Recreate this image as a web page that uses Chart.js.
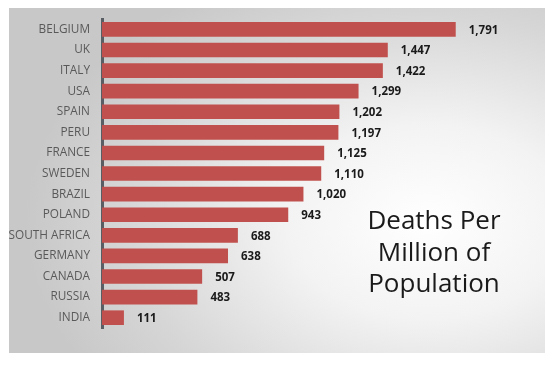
<!DOCTYPE html>
<html>
<head>
<meta charset="utf-8">
<script src="https://cdn.jsdelivr.net/npm/chart.js@4"></script>
<style>
    html, body { margin: 0; padding: 0; background: #fff; }
    #wrap { position: relative; width: 559px; height: 365px; }
    #panel {
        position: absolute; left: 9px; top: 8px; width: 536px; height: 345px;
        background: radial-gradient(ellipse 75% 80% at 78% 62%, #ffffff 0%, #f3f3f3 35%, #d6d6d6 75%, #c8c8c8 100%);
    }
    #chart { position: absolute; left: 0; top: 0; }
    #title {
        position: absolute; left: 334px; top: 204px; width: 200px;
        text-align: center; font-family: 'Open Sans', sans-serif;
        font-size: 26px; line-height: 31.5px; color: #1a1a1a;
    }
</style>
</head>
<body>
<div id="wrap">
    <div id="panel"></div>
    <canvas id="chart" width="559" height="365"></canvas>
    <div id="title">Deaths Per<br>Million of<br>Population</div>
</div>
<script>
var countries = ['BELGIUM', 'UK', 'ITALY', 'USA', 'SPAIN', 'PERU', 'FRANCE', 'SWEDEN',
    'BRAZIL', 'POLAND', 'SOUTH AFRICA', 'GERMANY', 'CANADA', 'RUSSIA', 'INDIA'];
var deathsPerMillion = [1791, 1447, 1422, 1299, 1202, 1197, 1125, 1110,
    1020, 943, 688, 638, 507, 483, 111];

// draw the value next to each bar
var valueLabels = {
    id: 'valueLabels',
    afterDatasetsDraw: function(chart) {
        var ctx = chart.ctx;
        var meta = chart.getDatasetMeta(0);
        ctx.save();
        ctx.font = '700 11.5px "Open Sans", sans-serif';
        ctx.fillStyle = '#1a1a1a';
        ctx.textAlign = 'left';
        ctx.textBaseline = 'middle';
        meta.data.forEach(function(bar, i) {
            ctx.fillText(deathsPerMillion[i].toLocaleString('en-US'), bar.x + 13, bar.y + 1);
        });
        ctx.restore();
    }
};

new Chart(document.getElementById('chart'), {
    type: 'bar',
    data: {
        labels: countries,
        datasets: [{
            data: deathsPerMillion,
            backgroundColor: '#c0504d',
            borderWidth: 0,
            barPercentage: 0.71,
            categoryPercentage: 1
        }]
    },
    options: {
        indexAxis: 'y',
        responsive: false,
        animation: false,
        layout: { padding: { left: 0, right: 62, top: 18, bottom: 37 } },
        plugins: {
            legend: { display: false },
            tooltip: { enabled: false }
        },
        scales: {
            x: {
                min: 0,
                max: 2000,
                display: false
            },
            y: {
                afterFit: function(scale) { scale.width = 102; },
                grid: { display: false, drawTicks: false },
                border: { display: true, color: '#585e63', width: 3 },
                ticks: {
                    padding: 12,
                    color: '#595959',
                    font: { family: 'Open Sans', size: 11.8 }
                }
            }
        }
    },
    plugins: [valueLabels]
});
</script>
</body>
</html>
